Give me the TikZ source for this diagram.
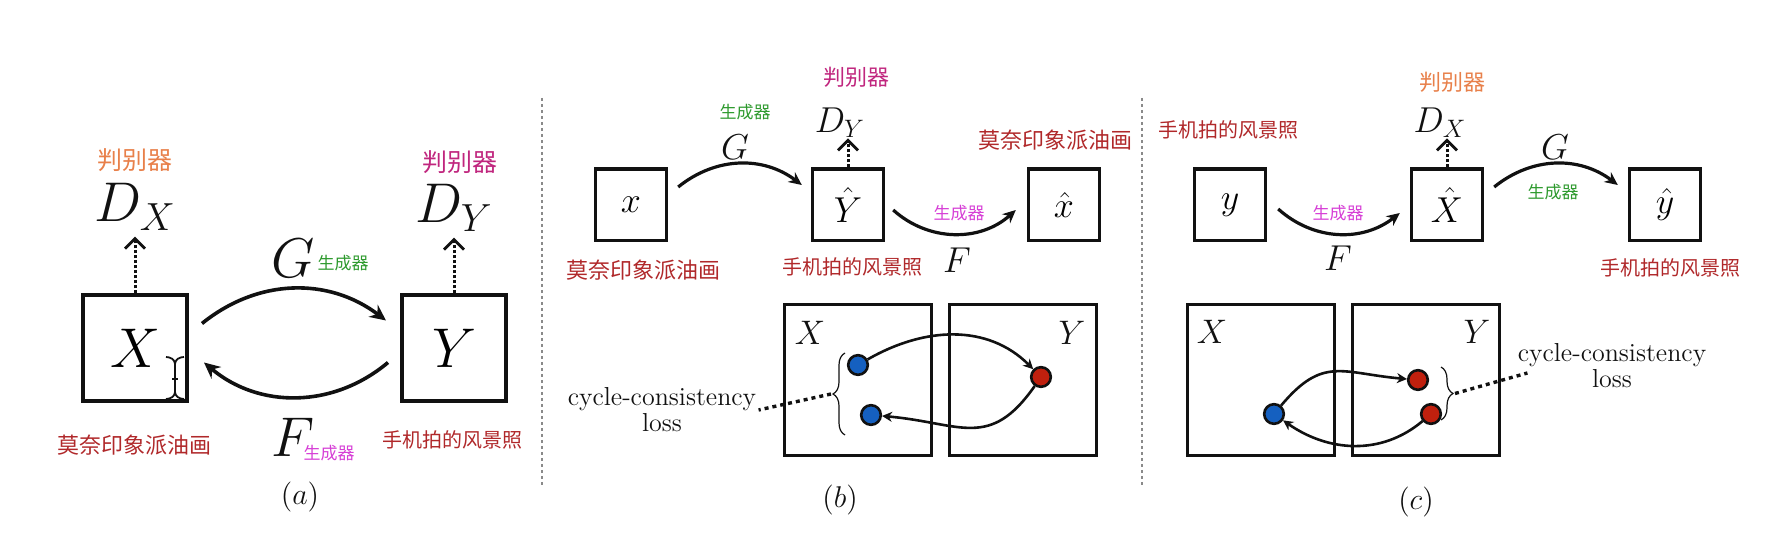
\RequirePackage{fix-cm}
\documentclass[tikz,border=0pt]{standalone}
\usepackage{fontspec}
\newfontfamily\cjk{Noto Sans CJK SC}
\usetikzlibrary{arrows.meta,positioning,calc,decorations.pathreplacing}
\definecolor{ink}{HTML}{111111}
\definecolor{sepGrey}{HTML}{8A8A8A}
\definecolor{judgeOr}{HTML}{E8804A}
\definecolor{judgeMag}{HTML}{C0267E}
\definecolor{genGreen}{HTML}{2E9A2E}
\definecolor{genMag}{HTML}{D63FD6}
\definecolor{tagRed}{HTML}{B0282A}
\definecolor{dotBlue}{HTML}{1560C0}
\definecolor{dotRed}{HTML}{C0200E}
\tikzset{
  bigbox/.style={draw=ink,line width=2pt,minimum width=52pt,minimum height=53pt,inner sep=0pt,font=\fontsize{28}{28}\selectfont},
  smallbox/.style={draw=ink,line width=1.7pt,minimum width=35.5pt,minimum height=35.8pt,inner sep=0pt,font=\fontsize{18}{18}\selectfont},
  setbox/.style={draw=ink,line width=1.7pt,minimum width=73.3pt,minimum height=75.3pt,inner sep=0pt},
  bigmlab/.style={font=\fontsize{28}{28}\selectfont,text=ink,inner sep=0pt},
  mlab/.style={font=\fontsize{18}{18}\selectfont,text=ink,inner sep=0pt},
  setlab/.style={font=\fontsize{17}{17}\selectfont,text=ink,inner sep=0pt},
  capt/.style={font=\fontsize{15}{15}\selectfont,text=ink,inner sep=0pt},
  losstxt/.style={font=\fontsize{13}{13}\selectfont,text=ink,align=center,inner sep=1pt},
  zh/.style={font={\cjk\fontsize{#1}{#1}\selectfont},inner sep=0pt},
  samp/.style={circle,draw=ink,line width=1.3pt,minimum size=9.8pt,inner sep=0pt},
  genbig/.style={draw=ink,line width=1.8pt,-{Stealth[length=8pt,width=7.5pt]}},
  genarr/.style={draw=ink,line width=1.6pt,-{Stealth[length=6.5pt,width=6pt]}},
  cycarr/.style={draw=ink,line width=1.3pt,-{Stealth[length=5pt,width=5pt]}},
  dotarr/.style={draw=ink,line width=1.5pt,dash pattern=on 1.5pt off 1pt,-{Straight Barb[length=5pt,width=10pt,line width=1.4pt]}},
  lossln/.style={draw=ink,line width=1.7pt,dash pattern=on 2pt off 2pt},
  brc/.style={draw=ink,line width=0.6pt,decorate,decoration={brace,amplitude=6pt}},
  sepline/.style={draw=sepGrey,line width=0.7pt,dash pattern=on 1.5pt off 1.5pt}}
\begin{document}
\begin{tikzpicture}[x=0.5pt,y=0.5pt]
\useasboundingbox (0,0) rectangle (1772,534);
\node[bigbox] (aX) at (135,185.5) {$X$};
\node[bigbox] (aY) at (454,185.5) {$Y$};
\node[bigmlab] (aDX) at (135,327) {$D_X$};\node[bigmlab] (aDY) at (454,326) {$D_Y$};
\node[zh=12.5,text=judgeOr] (aJX) at (135,374) {判别器};
\node[zh=12.5,text=judgeMag] (aJY) at (460,372) {判别器};
\draw[dotarr,shorten >=3pt] (aX.north) -- (aX.north |- aDX.south);
\draw[dotarr,shorten >=3pt] (aY.north) -- (aY.north |- aDY.south);
\node[bigmlab] (aG) at (293,276) {$G$};\node[zh=8.5,text=genGreen] (aGz) at (343,271) {生成器};
\node[bigmlab] (aF) at (293,97) {$F$};\node[zh=8.5,text=genMag] (aFz) at (329,81) {生成器};
\draw[genbig] ($(aX.east)+(13,25)$) to[bend left=38] ($(aY.west)+(-14,28)$);
\draw[genbig] ($(aY.west)+(-12,-14)$) to[bend left=40] ($(aX.east)+(15,-14)$);
\node[zh=11,text=tagRed] (aMo) at (134,89) {莫奈印象派油画};
\node[zh=10,text=tagRed] (aPh) at (452,94) {手机拍的风景照};
\node[capt] (aCap) at (300,37) {$(a)$};
\draw[ink,line width=0.9pt] (166,177) to[out=0,in=90] (175,170) to[out=90,in=180] (184,177);
\draw[ink,line width=0.9pt] (175,170) -- (175,142) (172,155) -- (178,155);
\draw[ink,line width=0.9pt] (166,135) to[out=0,in=-90] (175,142) to[out=-90,in=180] (184,135);
\draw[sepline] (542,436) -- (542,46);
\node[smallbox] (bx) at (631,329) {$x$};
\node[smallbox] (bYh) at (848,329) {$\hat{Y}$};
\node[smallbox] (bxh) at (1064,329) {$\hat{x}$};
\node[mlab] (bDY) at (840,411) {$D_Y$};
\node[zh=11,text=judgeMag] (bJY) at (856,457) {判别器};
\draw[dotarr] (bYh.north) -- (bYh.north |- bDY.south);
\node[mlab] (bG) at (735,387) {$G$};\node[zh=8.5,text=genGreen] (bGz) at (745,422) {生成器};
\draw[genarr] ($(bx.east)+(10,18)$) to[bend left=38] ($(bYh.west)+(-9,20)$);
\node[zh=8.5,text=genMag] (bFz) at (959,321) {生成器};\node[mlab] (bF) at (957,274) {$F$};
\draw[genarr] ($(bYh.east)+(8,-5)$) to[bend right=42] ($(bxh.west)+(-11,-5)$);
\node[zh=11,text=tagRed] (bMo1) at (643,264) {莫奈印象派油画};
\node[zh=10,text=tagRed] (bPh) at (852,267) {手机拍的风景照};
\node[zh=11,text=tagRed] (bMo2) at (1055,394) {莫奈印象派油画};
\node[setbox] (bSX) at (858,154) {};\node[setbox] (bSY) at (1023,154) {};
\node[setlab] (bSXl) at (810,201) {$X$};\node[setlab] (bSYl) at (1072,201) {$Y$};
\node[samp,fill=dotBlue] (bP1) at (858,169) {};
\node[samp,fill=dotRed] (bQ) at (1041,157) {};
\node[samp,fill=dotBlue] (bP2) at (871,119) {};
\draw[cycarr] (bP1) to[out=30,in=135] (bQ);
\draw[cycarr] (bQ) to[out=235,in=-5,looseness=1.3] (bP2);
\draw[brc] (845,99) -- (845,181);
\coordinate (bTip) at (831,140);
\node[losstxt] (bLoss) at (662,124) {cycle-consistency\\loss};
\draw[lossln] (bTip) -- (bLoss.east);
\node[capt] (bCap) at (840,34) {$(b)$};
\draw[sepline] (1142,436) -- (1142,46);
\node[smallbox] (cy) at (1230,329) {$y$};
\node[smallbox] (cXh) at (1447,329) {$\hat{X}$};
\node[smallbox] (cyh) at (1665,329) {$\hat{y}$};
\node[zh=10,text=tagRed] (cPh1) at (1228,404) {手机拍的风景照};
\node[zh=10,text=tagRed] (cPh2) at (1670,266) {手机拍的风景照};
\draw[genarr] ($(cy.east)+(11,-4)$) to[bend right=40] ($(cXh.west)+(-10,-8)$);
\node[zh=8.5,text=genMag] (cFz) at (1338,321) {生成器};\node[mlab] (cF) at (1338,276) {$F$};
\node[mlab] (cDX) at (1440,411) {$D_X$};
\node[zh=11,text=judgeOr] (cJX) at (1452,452) {判别器};
\draw[dotarr] (cXh.north) -- (cXh.north |- cDX.south);
\draw[genarr] ($(cXh.east)+(10,18)$) to[bend left=38] ($(cyh.west)+(-10,20)$);
\node[mlab] (cG) at (1555,387) {$G$};\node[zh=8.5,text=genGreen] (cGz) at (1553,342) {生成器};
\node[setbox] (cSX) at (1261,154) {};\node[setbox] (cSY) at (1426,154) {};
\node[setlab] (cSXl) at (1212,202) {$X$};\node[setlab] (cSYl) at (1477,202) {$Y$};
\node[samp,fill=dotBlue] (cP) at (1274,120) {};
\node[samp,fill=dotRed] (cQ1) at (1418,154) {};
\node[samp,fill=dotRed] (cQ2) at (1431,120) {};
\draw[cycarr] (cP) to[out=50,in=175,looseness=1.3] (cQ1);
\draw[cycarr] (cQ2) to[out=220,in=-35] (cP);
\draw[brc] (1441,167) -- (1441,114);
\coordinate (cTip) at (1455,140.5);
\node[losstxt] (cLoss) at (1612,168) {cycle-consistency\\loss};
\coordinate (cEnd) at ($(cLoss.west)+(12,-7)$);
\draw[lossln] (cTip) -- (cEnd);
\node[capt] (cCap) at (1416,32) {$(c)$};
\end{tikzpicture}
\end{document}
